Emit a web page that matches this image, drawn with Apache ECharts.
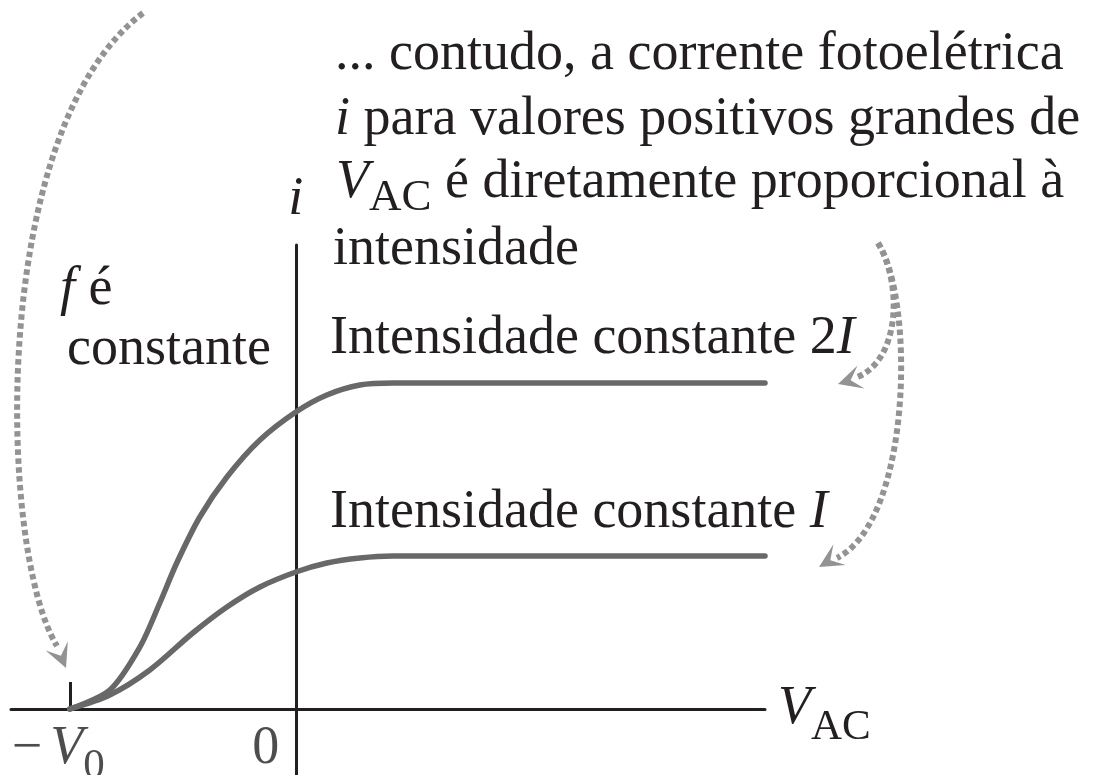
<!DOCTYPE html>
<html>
<head>
<meta charset="utf-8">
<script src="https://cdn.jsdelivr.net/npm/echarts@6/dist/echarts.min.js"></script>
<style>
  html, body { margin: 0; padding: 0; background: #ffffff; }
  #chart { width: 1093px; height: 775px; }
</style>
</head>
<body>
<div id="chart"></div>
<script>
// Photoelectric current i against the potential V_AC, for two light intensities
// (same frequency f). Voltages are in units of the stopping potential V0.
const vAc2I = [-1, -0.823, -0.69, -0.602, -0.527, -0.425, -0.305, -0.159, 0, 0.137, 0.283, 0.429, 2.075];
const current2I = [0, 0.19, 0.62, 1.06, 1.46, 1.92, 2.32, 2.69, 2.97, 3.14, 3.24, 3.26, 3.26];
const vAcI = [-1, -0.823, -0.646, -0.456, -0.305, -0.159, 0, 0.137, 0.283, 0.429, 2.075];
const currentI = [0, 0.14, 0.39, 0.76, 1.02, 1.22, 1.37, 1.46, 1.51, 1.53, 1.53];

// Marked voltages on the V_AC axis and their labels
const tickValues = [-1, 0];
const tickLabels = ['{m|−}{itv|V}{sub|0}{g1| }', '{r|0}{g2| }'];

const INK = '#231f20';
const CURVE = '#686868';
const DOTS = '#939396';
const SERIF = 'Liberation Serif';

const chart = echarts.init(document.getElementById('chart'), null, { renderer: 'canvas' });

function pairs(xs, ys) {
  return xs.map((x, k) => [x, ys[k]]);
}

// Rich text styles shared by the free-standing annotations
const TEXT_RICH = {
  r:   { fontFamily: SERIF, fontSize: 54, lineHeight: 60, fill: INK },
  it:  { fontFamily: SERIF, fontSize: 54, lineHeight: 60, fontStyle: 'italic', fill: INK },
  sub: { fontFamily: SERIF, fontSize: 45, lineHeight: 30, padding: [30, 0, 0, 0], fill: INK }
};

function textAt(x, baseline, text) {
  return {
    type: 'text', x: x, y: baseline - 40, silent: true,
    style: { text: text, rich: TEXT_RICH, verticalAlign: 'top', fill: INK }
  };
}

function dottedCurve(p0, c1, c2, p3) {
  return {
    type: 'bezierCurve', silent: true,
    shape: { x1: p0[0], y1: p0[1], cpx1: c1[0], cpy1: c1[1], cpx2: c2[0], cpy2: c2[1], x2: p3[0], y2: p3[1] },
    style: { stroke: DOTS, lineWidth: 6, lineDash: [5.5, 3.5], fill: null }
  };
}

// Barbed arrow head: tip position and pointing direction
function arrowHead(tip, dir, len, halfW) {
  const n = Math.hypot(dir[0], dir[1]);
  const d = [dir[0] / n, dir[1] / n];
  const p = [-d[1], d[0]];
  const pts = [
    tip,
    [tip[0] - d[0] * len + p[0] * halfW, tip[1] - d[1] * len + p[1] * halfW],
    [tip[0] - d[0] * len * 0.55, tip[1] - d[1] * len * 0.55],
    [tip[0] - d[0] * len - p[0] * halfW, tip[1] - d[1] * len - p[1] * halfW]
  ];
  return { type: 'polygon', silent: true, shape: { points: pts }, style: { fill: DOTS } };
}

const option = {
  backgroundColor: '#ffffff',
  animation: false,
  grid: { left: 11, right: 328, top: 245, bottom: 0, containLabel: false },
  xAxis: {
    type: 'value',
    min: -1.26,
    max: 2.075,
    axisLine: { show: true, onZero: true, lineStyle: { color: INK, width: 3 } },
    axisTick: { show: true, customValues: [tickValues[0]], inside: true, length: 27, lineStyle: { color: INK, width: 3 } },
    splitLine: { show: false },
    axisLabel: { show: false },
    name: '{it|V}{sub|AC}',
    nameLocation: 'end',
    nameGap: 13,
    nameTextStyle: {
      rich: {
        it:  { fontFamily: SERIF, fontSize: 54, lineHeight: 60, fontStyle: 'italic', color: INK },
        sub: { fontFamily: SERIF, fontSize: 43, lineHeight: 22, padding: [38, 0, 0, 0], color: INK }
      }
    }
  },
  yAxis: {
    type: 'value',
    min: -0.66,
    max: 4.64,
    axisLine: { show: true, onZero: true, lineStyle: { color: INK, width: 3 } },
    axisTick: { show: false },
    axisLabel: { show: false },
    splitLine: { show: false },
    name: 'i',
    nameLocation: 'end',
    nameGap: 15,
    nameTextStyle: { fontFamily: SERIF, fontSize: 54, lineHeight: 60, fontStyle: 'italic', color: INK }
  },
  series: [
    {
      name: 'Intensidade constante 2I',
      type: 'line',
      data: pairs(vAc2I, current2I),
      smooth: 0.3,
      symbol: 'none',
      lineStyle: { color: CURVE, width: 5.5, cap: 'round' },
      z: 3
    },
    {
      name: 'Intensidade constante I',
      type: 'line',
      data: pairs(vAcI, currentI),
      smooth: 0.3,
      symbol: 'none',
      lineStyle: { color: CURVE, width: 5.5, cap: 'round' },
      z: 3
    },
    {
      // labels of the marked voltages, hung under the V_AC axis
      name: 'tick labels',
      type: 'scatter',
      silent: true,
      symbolSize: 0,
      data: tickValues.map(v => [v, 0]),
      label: {
        show: true,
        position: 'bottom',
        distance: 10,
        formatter: p => tickLabels[p.dataIndex],
        rich: {
          m:   { fontFamily: SERIF, fontSize: 54, lineHeight: 60, color: INK },
          r:   { fontFamily: SERIF, fontSize: 54, lineHeight: 60, color: INK },
          itv: { fontFamily: SERIF, fontSize: 54, lineHeight: 60, fontStyle: 'italic', color: INK, padding: [0, 0, 0, 8] },
          sub: { fontFamily: SERIF, fontSize: 43, lineHeight: 24, padding: [36, 0, 0, 0], color: INK },
          g1:  { width: 23, fontSize: 10, lineHeight: 60 },
          g2:  { width: 60, fontSize: 10, lineHeight: 60 }
        }
      },
      z: 4
    }
  ],
  graphic: [
    textAt(335, 65, '{r|... contudo, a corrente fotoelétrica}'),
    textAt(335, 130, '{it|i}{r| para valores positivos grandes de}'),
    textAt(336, 193, '{it|V}{sub|AC}{r| é diretamente proporcional à}'),
    textAt(333, 260, '{r|intensidade}'),
    textAt(60, 300, '{it|f}{r| é}'),
    textAt(67, 360, '{r|constante}'),
    textAt(330, 349, '{r|Intensidade constante 2}{it|I}'),
    textAt(330, 523, '{r|Intensidade constante }{it|I}'),

    dottedCurve([143, 13], [-12, 130], [-2, 550], [57, 646]),
    arrowHead([66, 668], [10, 24], 24, 12),

    dottedCurve([878, 243], [915, 300], [912, 520], [837, 558]),
    arrowHead([819, 567], [-20, 12], 24, 12),

    dottedCurve([878, 243], [903, 285], [900, 362], [855, 378]),
    arrowHead([838, 384], [-20, 6], 24, 12)
  ]
};

chart.setOption(option);
</script>
</body>
</html>
